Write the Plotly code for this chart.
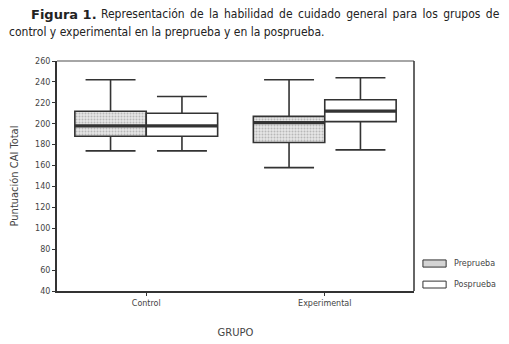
import plotly.graph_objects as go

groups = ["Control", "Experimental"]
pre_low = [174, 158]
pre_q1 = [188, 182]
pre_med = [198, 201]
pre_q3 = [212, 207]
pre_high = [242, 242]

pos_low = [174, 175]
pos_q1 = [188, 202]
pos_med = [198, 212]
pos_q3 = [210, 223]
pos_high = [226, 244]

yticks = list(range(40, 261, 20))

LINE = "#333333"
BOXW = 0.4
idx = list(range(len(groups)))
pre_x = [i - BOXW / 2 for i in idx]
pos_x = [i + BOXW / 2 for i in idx]

fig = go.Figure()
# stippled fill for Preprueba boxes
fig.add_trace(go.Bar(
    x=pre_x, base=pre_q1, y=[h - l for h, l in zip(pre_q3, pre_q1)], width=BOXW,
    marker=dict(color="#e6e6e6", line=dict(width=0),
                pattern=dict(shape=".", fgcolor="#8a8a8a", bgcolor="#e6e6e6", size=3, solidity=0.35)),
    showlegend=False, hoverinfo="skip"))
fig.add_trace(go.Box(
    name="Preprueba", x=pre_x, q1=pre_q1, median=pre_med, q3=pre_q3,
    lowerfence=pre_low, upperfence=pre_high, width=BOXW,
    fillcolor="rgba(0,0,0,0)", line=dict(color=LINE, width=1.6),
    whiskerwidth=0.7, showlegend=False, hoverinfo="skip"))
fig.add_trace(go.Box(
    name="Posprueba", x=pos_x, q1=pos_q1, median=pos_med, q3=pos_q3,
    lowerfence=pos_low, upperfence=pos_high, width=BOXW,
    fillcolor="white", line=dict(color=LINE, width=1.6),
    whiskerwidth=0.7, showlegend=False, hoverinfo="skip"))

# thicker median lines
for xs, meds in ((pre_x, pre_med), (pos_x, pos_med)):
    for xc, m in zip(xs, meds):
        fig.add_trace(go.Scatter(
            x=[xc - BOXW / 2, xc + BOXW / 2], y=[m, m], mode="lines",
            line=dict(color=LINE, width=3.2), showlegend=False, hoverinfo="skip"))

font_small = dict(family="DejaVu Sans", size=8, color="#444444")
title_font = dict(family="DejaVu Sans Condensed", size=12, color="#222222")

fig.update_layout(
    width=501, height=336,
    margin=dict(l=49, r=95, t=53, b=53, autoexpand=False),
    paper_bgcolor="white", plot_bgcolor="white",
    boxmode="overlay", barmode="overlay",
    xaxis=dict(range=[-0.5, 1.5], tickvals=idx, ticktext=groups, automargin=False,
               showline=True, linecolor=LINE, linewidth=2,
               ticks="outside", ticklen=3, tickcolor=LINE,
               tickfont=font_small, showgrid=False, zeroline=False,
               title=dict(text="GRUPO", font=dict(family="DejaVu Sans", size=10, color="#444444"), standoff=22)),
    yaxis=dict(range=[40, 260], tickvals=yticks, automargin=False,
               showline=True, linecolor=LINE, linewidth=2,
               ticks="outside", ticklen=3, tickcolor=LINE, tickfont=font_small,
               showgrid=False, zeroline=False,
               title=dict(text="Puntuación CAI Total",
                          font=dict(family="DejaVu Sans Condensed", size=11, color="#444444"),
                          standoff=14)),
    shapes=[
        dict(type="line", xref="paper", yref="paper", x0=0, x1=1, y0=1, y1=1,
             line=dict(color="#888888", width=1.5)),
        dict(type="line", xref="paper", yref="paper", x0=1, x1=1, y0=0, y1=1,
             line=dict(color=LINE, width=1.5)),
        dict(type="rect", xref="paper", yref="paper", x0=1.025, x1=1.09, y0=0.104, y1=0.135,
             fillcolor="#d4d4d4", line=dict(color=LINE, width=1)),
        dict(type="rect", xref="paper", yref="paper", x0=1.025, x1=1.09, y0=0.013, y1=0.043,
             fillcolor="white", line=dict(color=LINE, width=1)),
    ],
    annotations=[
        dict(xref="paper", yref="paper", x=1.106, y=0.12, text="Preprueba", showarrow=False,
             xanchor="left", yanchor="middle", font=font_small),
        dict(xref="paper", yref="paper", x=1.106, y=0.028, text="Posprueba", showarrow=False,
             xanchor="left", yanchor="middle", font=font_small),
        dict(xref="paper", yref="paper", x=-0.0784, y=1.204, xanchor="left", yanchor="middle", showarrow=False,
             text="<b>Figura 1.</b>", font=dict(family="DejaVu Sans", size=13, color="#222222")),
        dict(xref="paper", yref="paper", x=0.1176, y=1.204, xanchor="left", yanchor="middle", showarrow=False,
             text="<span style='word-spacing:2px'>Representación de la habilidad de cuidado general para los grupos de</span>",
             font=title_font),
        dict(xref="paper", yref="paper", x=-0.14, y=1.126, xanchor="left", yanchor="middle", showarrow=False,
             text="control y experimental en la preprueba y en la posprueba.", font=title_font),
    ],
)

fig.write_html("out.html")
